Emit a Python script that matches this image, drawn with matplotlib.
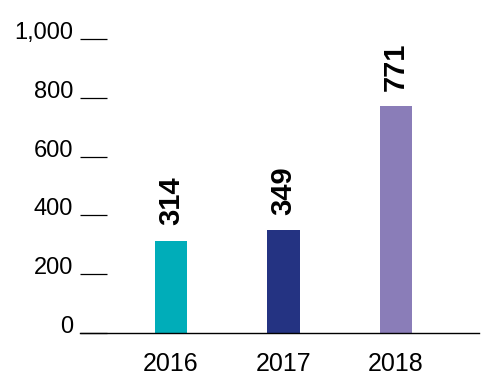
import matplotlib
matplotlib.use('Agg')
import matplotlib.pyplot as plt

plt.rcParams['font.family'] = ['Liberation Sans', 'DejaVu Sans']

years = ['2016', '2017', '2018']
values = [314, 349, 771]
colors = ['#00adb9', '#243382', '#8a7db8']
yticks = [0, 200, 400, 600, 800, 1000]
ytick_labels = ['0', '200', '400', '600', '800', '1,000']

fig = plt.figure(figsize=(4.92, 3.84), dpi=100)
ax = fig.add_axes([80 / 492, 51 / 384, 399 / 492, 294 / 384])

x = list(range(len(years)))
ax.bar(x, values, width=0.285, color=colors)

# value labels, rotated, above each bar
for xi, v in zip(x, values):
    ax.annotate(str(v), (xi, v), xytext=(0, 11), textcoords='offset points',
                rotation=90, ha='center', va='bottom', fontsize=21,
                fontweight='bold', color='black', annotation_clip=False)

ax.set_xlim(-0.809, 2.738)
ax.set_ylim(0, 1000)

ax.set_xticks(x)
ax.set_xticklabels(years, fontsize=18)
ax.tick_params(axis='x', length=0, pad=14)

ax.set_yticks(yticks)
ax.set_yticklabels(ytick_labels, fontsize=17)
ax.tick_params(axis='y', direction='in', length=19.5, width=0.9, pad=5, color='black')
for lab in ax.get_yticklabels():
    lab.set_verticalalignment('baseline')

for s in ['top', 'right', 'left']:
    ax.spines[s].set_visible(False)
ax.spines['bottom'].set_linewidth(1.0)

fig.savefig('out.png', dpi=100)
